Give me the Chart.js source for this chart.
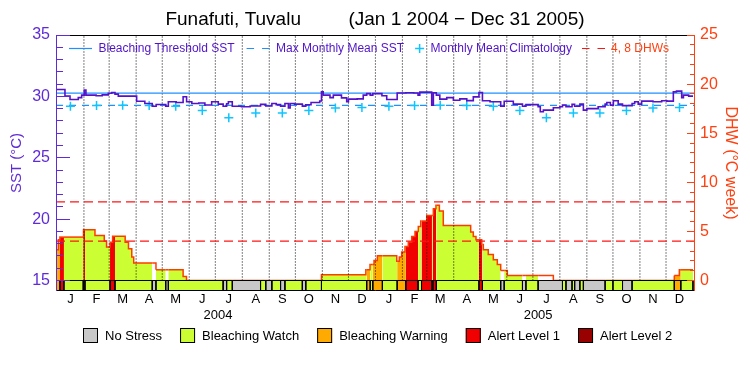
<!DOCTYPE html>
<html>
<head>
<meta charset="utf-8">
<title>Funafuti, Tuvalu - SST and DHW</title>
<script src="https://cdn.jsdelivr.net/npm/chart.js@4.4.1/dist/chart.umd.min.js"></script>
<style>
html,body{margin:0;padding:0;background:#fff;}
canvas{display:block;}
</style>
</head>
<body>
<canvas id="chart" width="750" height="375"></canvas>
<script>
// ---------------- data ----------------
const chartTitle = 'Funafuti, Tuvalu         (Jan 1 2004 \u2212 Dec 31 2005)';
const monthStarts = [0,31,60,91,121,152,182,213,244,274,305,335,366,397,425,456,486,517,547,578,609,639,670,700,731];
const monthLetters = ['J','F','M','A','M','J','J','A','S','O','N','D'];
const yearLabels = ['2004', '2005'];
const yearLabelDays = [185, 553];
const climatologyMonthly = [29.2, 29.25, 29.27, 29.25, 29.2, 28.85, 28.25, 28.65, 28.65, 28.85, 29.05, 29.1];
const bleachingThreshold = 30.27;
const maxMonthlyMean = 29.27;
const dhwGuideLevels = [4, 8];
const lastDay = 731;

// SST (step values, day since Jan 1 2004)
const sstDays = [0,9.2,15,24.5,28.4,31.4,33.3,45,52,59,63,66.7,70.5,91.6,101,109.5,114,125,128,137,145,149,155,163,170,177.8,185.4,191,195,197,201.5,212,222,234,240,247,252,257,262,266,268,273,282,286,292,302,304,306,313.8,317.6,327,333,335,345,352,356,360,363,373.5,379,391,401,410,415,417,430.7,432.6,436,440,448,455.6,463,471,478.5,485,489,497.7,510,514,524.5,535,539,553,555.5,559,570.5,578,581,585,592,595,601,605,609,622,630,632,636,639.5,645,650,661,664,668,672,685,695,701,708.4,712,718,720,726];
const sstValues = [30.56,30.02,29.75,29.9,30.1,30.51,30.1,30.05,30.12,30.25,30.32,30.18,30.02,29.6,29.42,29.2,29.34,29.2,29.56,29.5,29.97,29.56,29.42,29.46,29.3,29.56,29.37,29.2,29.4,29.56,29.2,29.15,29.22,29.35,29.22,29.42,29.33,29.2,29.42,29.05,29.42,29.37,29.2,29.32,29.5,29.62,30.37,30.1,29.9,30.1,29.88,29.56,29.78,29.8,30.1,30.22,30.1,30.22,30.05,29.75,30.28,30.3,30.28,30.1,30.35,29.29,30.3,30.1,29.78,29.9,29.69,29.8,29.65,29.96,30.32,29.64,29.56,29.2,29.6,29.37,29.2,29.33,29.15,28.75,28.88,29.07,29.15,29.3,29.15,29.35,29.2,29.37,28.88,29.0,29.15,29.37,29.5,29.29,29.64,29.37,29.25,29.42,29.56,29.37,29.61,29.56,29.64,29.61,30.37,30.43,29.9,30.1,30.02];

// Degree Heating Weeks (step values)
const dhwDays = [0,1.5,3.4,30.5,43.7,54.4,57,61,64,78.4,82.2,86,88.2,113.8,145,148.9,304,355,359.8,364.4,368.2,390.5,393.5,396.2,400,403.8,407.7,411.5,415.3,418.1,425,432.6,435.6,439.5,444,475.5,478.5,481.6,488.2,490,495.7,501.5,506.1,510,517.6,570.5,709.5,715.3];
const dhwValues = [3.13,4.15,4.42,5.17,4.59,4.01,3.4,3.9,4.5,3.9,3.23,2.38,1.77,1.09,0.41,0,0.58,1.09,1.63,2.04,2.52,1.97,2.38,2.89,3.47,3.91,4.49,5.0,5.51,6.05,6.63,7.31,7.65,7.07,5.61,4.93,4.49,4.15,3.67,3.13,2.65,2.11,1.63,1.02,0.51,0,0.51,1.09];

// Stress level (0 No Stress, 1 Watch, 2 Warning, 3 Alert 1, 4 Alert 2)
const statusDays = [0,3.5,8,30.2,32.2,61,66.7,109.5,113.8,125,128,191,195,201.5,234,240,247,257,262,282,286,304,356,360,363,374,391,401,415,419,431,432,436,485,489,510,514,535,539,553,581,585,592,595,601,605,630,639,650,661,709.5,717];
const statusLevels = [2,3,1,3,1,3,1,0,1,0,1,0,1,0,1,0,1,0,1,0,1,1,2,1,2,1,2,3,1,3,1,3,1,3,1,0,1,0,1,0,1,0,1,0,1,0,1,1,0,1,2,1];

const statusNames = ['No Stress','Bleaching Watch','Bleaching Warning','Alert Level 1','Alert Level 2'];
const statusColors = ['#c8c8c8','#ccff33','#ffaa00','#f00000','#990000'];
const dhwFillColors = ['#ffffff','#ccff33','#ffaa00','#f00000','#990000'];
const topLegendLabels = ['Bleaching Threshold SST','Max Monthly Mean SST','Monthly Mean Climatology','4, 8 DHWs'];

// ---------------- style ----------------
const FONT = "'Liberation Sans', Arial, Helvetica, sans-serif";
const LEFT_COLOR = '#5f2bd6';
const RIGHT_COLOR = '#ff4010';
const SST_COLOR = '#5512c8';
const LEGEND_TEXT = '#5014c8';
const BLUE = '#1e90ff';
const CLIM = '#10c4ff';
const DHW_LINE = '#ff3c00';
const GUIDE_RED = '#ff1414';
const X_MIN = -1.1, X_MAX = 733.3;
const SST_MIN = 14.1446, SST_MAX = 35, DHW_MIN = -1.07, DHW_MAX = 25;

// ---------------- build series ----------------
function stepAt(days, vals, d) {
  let v = vals[0];
  for (let i = 0; i < days.length; i++) { if (days[i] <= d) v = vals[i]; else break; }
  return v;
}
const monthMid = monthStarts.slice(0, -1).map((s, i) => (s + monthStarts[i + 1]) / 2);
const sstPoints = sstDays.map((d, i) => ({x: d, y: sstValues[i]}));
sstPoints.push({x: lastDay, y: sstValues[sstValues.length - 1]});
const climPoints = monthMid.map((m, i) => ({x: m, y: climatologyMonthly[i % 12]}));
const fillDays = Array.from(new Set(dhwDays.concat(statusDays, [lastDay]))).sort((a, b) => a - b);
const dhwPoints = fillDays.map(d => ({x: d, y: stepAt(dhwDays, dhwValues, d)}));
const statusPoints = statusDays.map(d => ({x: d, y: 0})).concat([{x: lastDay, y: 0}]);
const statusEdges = statusDays.slice(1).concat([lastDay]).flatMap(d => [{x: d, y: 0}, {x: d, y: DHW_MIN}, {x: d, y: null}]);
const gridPoints = monthStarts.slice(1, -1).flatMap(d => [{x: d, y: 0}, {x: d, y: DHW_MAX}, {x: d, y: null}]);

const datasets = [
  {label: 'SST', data: sstPoints, yAxisID: 'y', stepped: true, borderColor: SST_COLOR, borderWidth: 1.6, pointRadius: 0, fill: false, order: 1},
  {label: topLegendLabels[2], data: climPoints, yAxisID: 'y', showLine: false, pointStyle: 'cross', pointRadius: 4.5,
   pointBorderColor: CLIM, pointBorderWidth: 1.5, borderColor: CLIM, backgroundColor: CLIM, order: 2},
  {label: topLegendLabels[0], data: [{x: X_MIN, y: bleachingThreshold}, {x: X_MAX, y: bleachingThreshold}], yAxisID: 'y',
   borderColor: BLUE, borderWidth: 1.2, pointRadius: 0, fill: false, order: 3},
  {label: topLegendLabels[1], data: [{x: X_MIN, y: maxMonthlyMean}, {x: X_MAX, y: maxMonthlyMean}], yAxisID: 'y',
   borderColor: BLUE, borderWidth: 1.2, borderDash: [7, 6], pointRadius: 0, fill: false, order: 4},
  ...dhwGuideLevels.map(v => ({label: 'DHW ' + v, data: [{x: X_MIN, y: v}, {x: X_MAX, y: v}], yAxisID: 'y2',
   borderColor: GUIDE_RED, borderWidth: 1.2, borderDash: [9, 5], pointRadius: 0, fill: false, order: 5})),
  {label: 'status edges', data: statusEdges, yAxisID: 'y2', borderColor: '#000', borderWidth: 1, pointRadius: 0, spanGaps: false, fill: false, order: 6},
  {label: 'status', data: statusPoints, yAxisID: 'y2', stepped: true, borderColor: '#000', borderWidth: 1, pointRadius: 0,
   fill: {value: DHW_MIN}, backgroundColor: statusColors[1],
   segment: {backgroundColor: c => statusColors[statusLevels[c.p0DataIndex]], borderColor: () => '#000', borderWidth: () => 1}, order: 7},
  {label: 'month grid', data: gridPoints, yAxisID: 'y2', borderColor: '#000', borderWidth: 1, borderDash: [1, 2], pointRadius: 0, spanGaps: false, fill: false, order: 8},
  {label: 'DHW', data: dhwPoints, yAxisID: 'y2', stepped: true, borderColor: DHW_LINE, borderWidth: 1.5, pointRadius: 0,
   fill: 'origin', backgroundColor: dhwFillColors[1],
   segment: {backgroundColor: c => dhwFillColors[stepAt(statusDays, statusLevels, dhwPoints[c.p0DataIndex].x)], borderColor: () => DHW_LINE, borderWidth: () => 1.5}, order: 9}
];

// ---------------- decorations (frame, inner ticks, legends) ----------------
function seg(ctx, x1, y1, x2, y2, color) {
  ctx.strokeStyle = color; ctx.beginPath(); ctx.moveTo(x1, y1); ctx.lineTo(x2, y2); ctx.stroke();
}
const decorPlugin = {
  id: 'decor',
  afterDraw(chart) {
    const {ctx, chartArea: a, scales} = chart;
    const L = Math.round(a.left), R = Math.round(a.right), T = Math.round(a.top), B = Math.round(a.bottom);
    ctx.save();
    ctx.lineWidth = 1; ctx.setLineDash([]);
    seg(ctx, L, T + 0.5, R, T + 0.5, '#000');
    seg(ctx, L, B - 0.5, R, B - 0.5, '#000');
    seg(ctx, L + 0.5, T, L + 0.5, B, LEFT_COLOR);
    seg(ctx, R - 0.5, T, R - 0.5, B, RIGHT_COLOR);
    for (let v = 15; v <= 35; v++) {
      const y = Math.floor(scales.y.getPixelForValue(v)) + 0.5;
      seg(ctx, L, y, L + (v % 5 === 0 ? 14 : 7), y, LEFT_COLOR);
    }
    for (let v = 0; v <= 25; v++) {
      const y = Math.floor(scales.y2.getPixelForValue(v)) + 0.5;
      seg(ctx, R - (v % 5 === 0 ? 8 : 5), y, R, y, RIGHT_COLOR);
    }
    // top legend inside plot
    const ly = 48.5;
    ctx.font = '12px ' + FONT; ctx.textBaseline = 'middle'; ctx.textAlign = 'left';
    let x = 69;
    ctx.lineWidth = 1.2;
    seg(ctx, x, ly, x + 23, ly, BLUE);
    x += 29.5; ctx.fillStyle = LEGEND_TEXT; ctx.fillText(topLegendLabels[0], x, ly);
    x += ctx.measureText(topLegendLabels[0]).width + 12;
    ctx.setLineDash([7.5, 8]); seg(ctx, x, ly, x + 23, ly, BLUE); ctx.setLineDash([]);
    x += 29.5; ctx.fillText(topLegendLabels[1], x, ly);
    x += ctx.measureText(topLegendLabels[1]).width + 11;
    ctx.lineWidth = 1.5;
    seg(ctx, x, ly, x + 9, ly, CLIM); seg(ctx, x + 4.5, ly - 4.5, x + 4.5, ly + 4.5, CLIM);
    x += 15.5; ctx.fillText(topLegendLabels[2], x, ly);
    x += ctx.measureText(topLegendLabels[2]).width + 10;
    ctx.lineWidth = 1.2;
    ctx.setLineDash([7.5, 8]); seg(ctx, x, ly, x + 23, ly, GUIDE_RED); ctx.setLineDash([]);
    x += 29; ctx.fillStyle = RIGHT_COLOR; ctx.fillText(topLegendLabels[3], x, ly);
    // bottom status legend
    ctx.font = '13px ' + FONT; ctx.fillStyle = '#000';
    const widths = statusNames.map(n => ctx.measureText(n).width);
    const total = widths.reduce((s, w) => s + 15 + 7 + w, 0) + 18 * (statusNames.length - 1);
    let bx = Math.round(378 - total / 2);
    const by = 328;
    ctx.lineWidth = 1;
    statusNames.forEach((n, i) => {
      ctx.fillStyle = statusColors[i]; ctx.fillRect(bx, by, 15, 15);
      ctx.strokeStyle = '#000'; ctx.strokeRect(bx + 0.5, by + 0.5, 14, 14);
      ctx.fillStyle = '#000'; ctx.fillText(n, bx + 22, by + 8);
      bx += 15 + 7 + widths[i] + 18;
    });
    ctx.restore();
  }
};

// ---------------- chart ----------------
Chart.defaults.font.family = FONT;
new Chart(document.getElementById('chart'), {
  type: 'line',
  data: {datasets},
  options: {
    responsive: false, animation: false, devicePixelRatio: 1, events: [],
    layout: {padding: {top: 0, left: 0, right: 0, bottom: 50}},
    plugins: {
      legend: {display: false}, tooltip: {enabled: false},
      title: {display: true, text: chartTitle, color: '#000', font: {family: FONT, size: 19, weight: 'normal'}, padding: {top: 8, bottom: 4.2}}
    },
    scales: {
      x: {type: 'linear', position: 'bottom', min: X_MIN, max: X_MAX,
        afterBuildTicks: s => { s.ticks = monthMid.map(v => ({value: v})); },
        afterFit: s => { s.height = 16; },
        grid: {display: false, drawTicks: false}, border: {display: false},
        ticks: {autoSkip: false, maxRotation: 0, minRotation: 0, padding: 1, color: '#000', font: {family: FONT, size: 13},
          callback: (v, i) => monthLetters[i % 12]}},
      xYear: {type: 'linear', position: 'bottom', weight: 1, min: X_MIN, max: X_MAX,
        afterBuildTicks: s => { s.ticks = yearLabelDays.map(v => ({value: v})); },
        afterFit: s => { s.height = 18; },
        grid: {display: false, drawTicks: false}, border: {display: false},
        ticks: {autoSkip: false, maxRotation: 0, minRotation: 0, padding: 1, color: '#000', font: {family: FONT, size: 13},
          callback: (v, i) => yearLabels[i]}},
      y: {position: 'left', min: SST_MIN, max: SST_MAX,
        afterBuildTicks: s => { s.ticks = [15, 20, 25, 30, 35].map(v => ({value: v})); },
        afterFit: s => { s.width = 56; },
        grid: {display: false, drawTicks: false}, border: {display: false},
        ticks: {color: LEFT_COLOR, font: {family: FONT, size: 16}, padding: 6},
        title: {display: true, text: 'SST (\u00B0C)', color: LEFT_COLOR, font: {family: FONT, size: 15}, padding: {top: 8, bottom: 0}}},
      y2: {position: 'right', min: DHW_MIN, max: DHW_MAX,
        afterBuildTicks: s => { s.ticks = [0, 5, 10, 15, 20, 25].map(v => ({value: v})); },
        afterFit: s => { s.width = 55; },
        grid: {display: false, drawTicks: false}, border: {display: false},
        ticks: {color: RIGHT_COLOR, font: {family: FONT, size: 16}, padding: 5},
        title: {display: true, text: 'DHW (\u00B0C week)', color: RIGHT_COLOR, font: {family: FONT, size: 16}, padding: {top: 10, bottom: 0}}}
    }
  },
  plugins: [decorPlugin]
});
</script>
</body>
</html>
